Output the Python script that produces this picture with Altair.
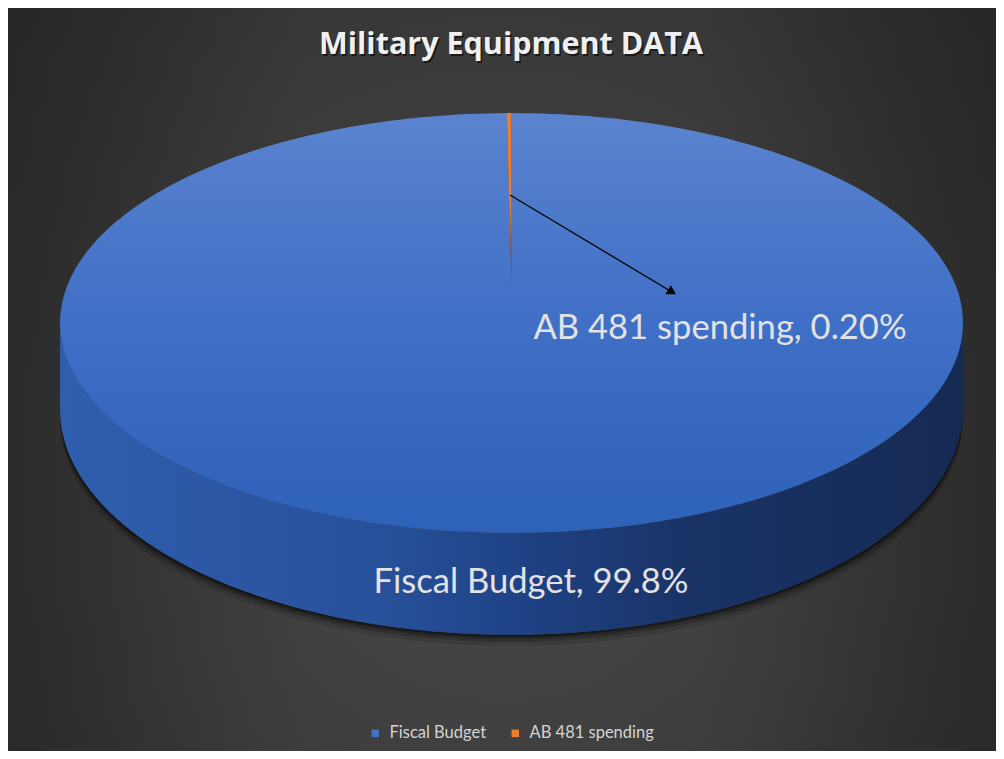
import altair as alt
import pandas as pd

# ---- data ----
categories = ["Fiscal Budget", "AB 481 spending"]
shares = [99.8, 0.2]
pct_labels = ["99.8%", "0.20%"]
slice_colors = ["#4472C4", "#ED7D31"]
title_text = "Military Equipment DATA"

# ---- layout (plot-area pixels) ----
W, H = 988, 743
CX, Y0, A, B, K, D = 503.5, 277.0, 444.0, 203.0, 0.181, 83.5
STEPS = 240
FONT = "Lato"

df = pd.DataFrame({
    "category": categories,
    "share": shares,
    "pct": pct_labels,
    "order": list(range(len(categories))),
})

def X(f):
    return alt.X(f, type="quantitative", scale=alt.Scale(domain=[0, W], nice=False, zero=False), axis=None)

def Y(f):
    return alt.Y(f, type="quantitative", scale=alt.Scale(domain=[H, 0], nice=False, zero=False), axis=None)

geo = (
    alt.Chart(df)
    .transform_window(cum="sum(share)", sort=[alt.SortField("order")], frame=[None, 0])
    .transform_joinaggregate(total="sum(share)")
    .transform_calculate(a0="2*PI*(datum.cum - datum.share)/datum.total")
    .transform_calculate(a1="2*PI*datum.cum/datum.total")
    .transform_calculate(steps=f"sequence(-1, {STEPS + 1})")
    .transform_flatten(["steps"], as_=["i"])
    .transform_calculate(r="datum.i < 0 ? 0 : 1")
    .transform_calculate(ang=f"datum.i < 0 ? 0 : datum.a0 + (datum.a1 - datum.a0) * datum.i / {STEPS}")
    .transform_calculate(v="datum.r * cos(datum.ang)")
    .transform_calculate(s="datum.r * sin(datum.ang)")
    .transform_calculate(w=f"1 + {K} * datum.v")
    .transform_calculate(px=f"{CX} + {A} * datum.s / datum.w")
    .transform_calculate(py=f"{Y0} - {B} * datum.v / datum.w")
    .transform_calculate(pb=f"datum.py + {D} / datum.w")
)

one = alt.Chart(pd.DataFrame({"k": [0]}))

# background
bg = one.mark_rect(
    fill=alt.Gradient(
        gradient="radial", x1=0.5, y1=0.6, r1=0.0, x2=0.5, y2=0.6, r2=0.8,
        stops=[alt.GradientStop(offset=0, color="#4a4a4a"),
               alt.GradientStop(offset=1, color="#2c2c2c")],
    )
).encode(x=alt.value(0), x2=alt.value(W), y=alt.value(0), y2=alt.value(H))

bg_side = one.mark_rect(
    fill=alt.Gradient(
        gradient="linear", x1=0, y1=0, x2=1, y2=0,
        stops=[alt.GradientStop(offset=0, color="rgba(0,0,0,0.22)"),
               alt.GradientStop(offset=0.3, color="rgba(0,0,0,0)"),
               alt.GradientStop(offset=0.7, color="rgba(0,0,0,0)"),
               alt.GradientStop(offset=1, color="rgba(0,0,0,0.22)")],
    )
).encode(x=alt.value(0), x2=alt.value(W), y=alt.value(0), y2=alt.value(H))

front = geo.transform_filter(alt.datum.category == categories[0]).transform_filter(
    f"datum.i >= 0 && datum.v <= -{K}"
)

shadows = []
for off, op in ((2, 0.3), (4, 0.25), (7, 0.18), (11, 0.12)):
    shadows.append(
        front.transform_calculate(ps=f"datum.pb + {off}")
        .mark_area(color="#000000", opacity=op)
        .encode(x=X("px"), y=Y("pb"), y2=alt.Y2("ps"))
    )

side = front.mark_area(
    fill=alt.Gradient(
        gradient="linear", x1=0, y1=0, x2=1, y2=0,
        stops=[alt.GradientStop(offset=0, color="#2f5eae"),
               alt.GradientStop(offset=0.35, color="#28519b"),
               alt.GradientStop(offset=0.5, color="#1f4387"),
               alt.GradientStop(offset=0.68, color="#1a3469"),
               alt.GradientStop(offset=1, color="#152a52")],
    )
).encode(x=X("px"), y=Y("py"), y2=alt.Y2("pb"))

top_fiscal = geo.transform_filter(alt.datum.category == categories[0]).mark_line(
    filled=True,
    strokeWidth=0,
    fill=alt.Gradient(
        gradient="linear", x1=0, y1=0, x2=0, y2=1,
        stops=[alt.GradientStop(offset=0, color="#5b83cf"),
               alt.GradientStop(offset=0.5, color="#3f6fc6"),
               alt.GradientStop(offset=1, color="#2e61b8")],
    ),
).encode(x=X("px"), y=Y("py"), order=alt.Order("i:Q"))

top_ab = geo.transform_filter(alt.datum.category == categories[1]).mark_line(
    filled=True,
    strokeWidth=0,
    fill=alt.Gradient(
        gradient="linear", x1=0, y1=0, x2=0, y2=1,
        stops=[alt.GradientStop(offset=0, color="#ED7D31"),
               alt.GradientStop(offset=0.55, color="#ED7D31"),
               alt.GradientStop(offset=1, color="rgba(237,125,49,0)")],
    ),
).encode(x=X("px"), y=Y("py"), order=alt.Order("i:Q"))

# leader arrow for the small slice
arrow_line = one.mark_rule(color="#000000", strokeWidth=1.3).encode(
    x=alt.value(502), y=alt.value(187), x2=alt.value(664), y2=alt.value(284)
)
arrow_head = one.mark_point(
    shape="triangle-right", filled=True, color="#000000", size=110, angle=31, opacity=1
).encode(x=alt.value(664), y=alt.value(284))

lab = alt.Chart(df).transform_calculate(label="datum.category + ', ' + datum.pct")
label_ab = lab.transform_filter(alt.datum.category == categories[1]).mark_text(
    font=FONT, fontSize=34.6, color="#e2e2e2", align="center", baseline="alphabetic"
).encode(text="label:N", x=alt.value(712), y=alt.value(331))
label_fiscal = lab.transform_filter(alt.datum.category == categories[0]).mark_text(
    font=FONT, fontSize=34.6, color="#e2e2e2", align="center", baseline="alphabetic"
).encode(text="label:N", x=alt.value(523), y=alt.value(585))

tdf = alt.Chart(pd.DataFrame({"t": [title_text]}))
title_shadow = tdf.mark_text(
    font="Open Sans", fontSize=30.5, fontWeight="bold", color="#000000", opacity=0.55,
    align="center", baseline="alphabetic"
).encode(text="t:N", x=alt.value(504.5), y=alt.value(48))
title = tdf.mark_text(
    font="Open Sans", fontSize=30.5, fontWeight="bold", color="#f0f0f0",
    align="center", baseline="alphabetic"
).encode(text="t:N", x=alt.value(503), y=alt.value(46))

legend_layer = alt.Chart(df).mark_square(size=50).encode(
    x=alt.value(-200), y=alt.value(-200),
    color=alt.Color(
        "category:N",
        scale=alt.Scale(domain=categories, range=slice_colors),
        legend=alt.Legend(
            title=None, orient="none", direction="horizontal",
            legendX=359, legendY=717,
            symbolType="square", symbolSize=56, symbolStrokeWidth=0, symbolOpacity=1,
            labelFont=FONT, labelFontSize=16.5, labelColor="#d4d4d4",
            labelOffset=6, columnPadding=20,
        ),
    ),
)

chart = alt.layer(
    bg, bg_side, *shadows, side, top_fiscal, top_ab,
    arrow_line, arrow_head, label_ab, label_fiscal,
    title_shadow, title, legend_layer,
).properties(
    width=W, height=H, padding=0, autosize="none", background="#2c2c2c"
).configure_view(strokeWidth=0)

chart.save("out.html", embed_options={"renderer": "svg", "actions": False})
